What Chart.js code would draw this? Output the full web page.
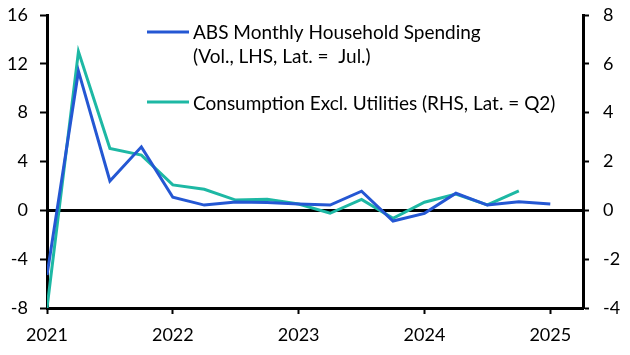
<!DOCTYPE html>
<html><head><meta charset="utf-8">
<script src="https://cdn.jsdelivr.net/npm/chart.js@4.4.1/dist/chart.umd.min.js"></script>
<style>html,body{margin:0;padding:0;background:#fff}canvas{display:block}</style>
</head><body>
<canvas id="c" width="630" height="355"></canvas>
<script>
// ---- data ----
const quarters = [2021, 2021.25, 2021.5, 2021.75, 2022, 2022.25, 2022.5, 2022.75,
                  2023, 2023.25, 2023.5, 2023.75, 2024, 2024.25, 2024.5, 2024.75, 2025];
const spendingLHS = [-5.3, 11.4, 2.4, 5.2, 1.07, 0.43, 0.68, 0.65,
                     0.52, 0.43, 1.57, -0.88, -0.25, 1.4, 0.43, 0.7, 0.52];
const consumptionRHS = [-4.0, 6.5, 2.53, 2.26, 1.04, 0.86, 0.42, 0.45,
                        0.26, -0.12, 0.45, -0.33, 0.33, 0.67, 0.22, 0.8];
const yearTicks = [2021, 2022, 2023, 2024, 2025];
const leftTicks = [-8, -4, 0, 4, 8, 12, 16];
const rightTicks = [-4, -2, 0, 2, 4, 6, 8];
const seriesNames = [
  ["ABS Monthly Household Spending", "(Vol., LHS, Lat. =  Jul.)"],
  ["Consumption Excl. Utilities (RHS, Lat. = Q2)"]
];

const BLUE = '#2457d3';
const TEAL = '#1db8a4';
const FONT = 'Lato';
const tickFont = {family: FONT, size: 18};

const legendPlugin = {
  id: 'customLegend',
  afterDraw(chart) {
    const ctx = chart.ctx;
    ctx.save();
    ctx.font = '19px ' + FONT;
    ctx.fillStyle = '#000';
    ctx.textBaseline = 'alphabetic';
    ctx.textAlign = 'left';
    const items = [
      {color: BLUE, lines: seriesNames[0], lineY: 32, baselines: [39, 63]},
      {color: TEAL, lines: seriesNames[1], lineY: 102, baselines: [110]}
    ];
    items.forEach(it => {
      ctx.strokeStyle = it.color;
      ctx.lineWidth = 3;
      ctx.beginPath();
      ctx.moveTo(147, it.lineY);
      ctx.lineTo(189, it.lineY);
      ctx.stroke();
      it.lines.forEach((t, i) => ctx.fillText(t, 193, it.baselines[i]));
    });
    ctx.restore();
  }
};

function fixedTicks(arr) {
  return s => { s.ticks = arr.map(v => ({value: v})); };
}
function fixY(s) { s.width = 47; s.paddingTop = 0; s.paddingBottom = 0; }

new Chart(document.getElementById('c'), {
  type: 'line',
  data: {
    datasets: [
      {
        label: seriesNames[0].join(' '),
        data: spendingLHS.map((v, i) => ({x: quarters[i], y: v})),
        yAxisID: 'yL',
        borderColor: BLUE, borderWidth: 3, pointRadius: 0, tension: 0, fill: false
      },
      {
        label: seriesNames[1].join(' '),
        data: consumptionRHS.map((v, i) => ({x: quarters[i], y: v})),
        yAxisID: 'yR',
        borderColor: TEAL, borderWidth: 3, pointRadius: 0, tension: 0, fill: false
      }
    ]
  },
  options: {
    responsive: false,
    animation: false,
    layout: {padding: {top: 15, left: 0, right: 0, bottom: 0}},
    plugins: {legend: {display: false}, tooltip: {enabled: false}},
    scales: {
      x: {
        type: 'linear', min: 2021, max: 2025.26,
        afterBuildTicks: fixedTicks(yearTicks),
        afterFit: s => { s.height = 47; s.paddingLeft = 0; s.paddingRight = 0; },
        ticks: {callback: v => String(v), font: tickFont, color: '#000', padding: 10, maxRotation: 0, autoSkip: false},
        grid: {drawOnChartArea: false, tickLength: 6, tickWidth: 2, tickColor: '#000'},
        border: {display: true, color: '#000', width: 3}
      },
      yL: {
        type: 'linear', position: 'left', min: -8, max: 16,
        afterBuildTicks: fixedTicks(leftTicks),
        afterFit: fixY,
        ticks: {font: tickFont, color: '#000', padding: 12},
        grid: {
          drawOnChartArea: true,
          color: c => (c.tick && c.tick.value === 0) ? '#000' : 'rgba(0,0,0,0)',
          lineWidth: 3, tickLength: 7, tickWidth: 2, tickColor: '#000'
        },
        border: {display: true, color: '#000', width: 3}
      },
      yR: {
        type: 'linear', position: 'right', min: -4, max: 8,
        afterBuildTicks: fixedTicks(rightTicks),
        afterFit: fixY,
        ticks: {font: tickFont, color: '#000', padding: 14},
        grid: {drawOnChartArea: false, tickLength: 6, tickWidth: 2, tickColor: '#000'},
        border: {display: true, color: '#000', width: 3}
      }
    }
  },
  plugins: [legendPlugin]
});
</script>
</body></html>
